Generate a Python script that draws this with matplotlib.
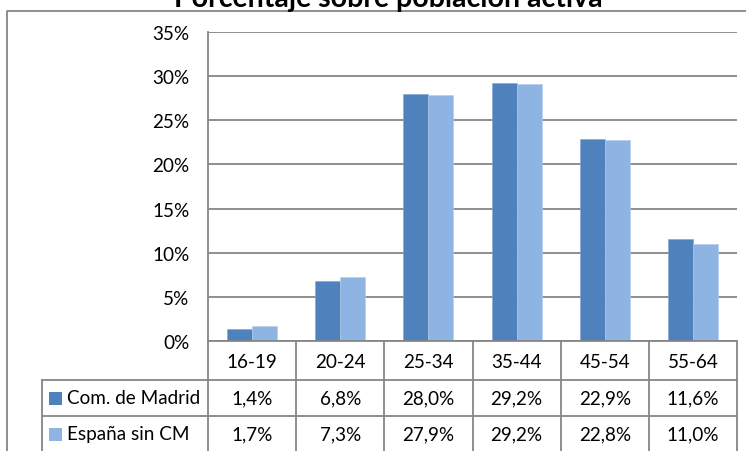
import matplotlib
matplotlib.use("Agg")
import matplotlib.pyplot as plt
from matplotlib.lines import Line2D
from matplotlib.patches import Rectangle
import matplotlib.transforms as mtransforms

plt.rcParams['font.family'] = ['Lato', 'DejaVu Sans']

# ---- data ----
categories = ["16-19", "20-24", "25-34", "35-44", "45-54", "55-64"]
series_names = ["Com. de Madrid", "España sin CM"]
madrid = [1.4, 6.8, 28.0, 29.24, 22.9, 11.6]
espana = [1.7, 7.3, 27.9, 29.16, 22.8, 11.0]
yticks = [0, 5, 10, 15, 20, 25, 30, 35]
title = "Porcentaje sobre población activa"

colors = ["#4F81BD", "#8EB4E3"]
grid_c = "#868686"
W, H = 746, 452

fig = plt.figure(figsize=(W / 100, H / 100), dpi=100)
fig.patch.set_facecolor("white")

def fx(p):
    return p / W

def fy(p):
    return 1 - p / H

left, right, top, bottom = 208, 737, 33, 342
ax = fig.add_axes([fx(left), fy(bottom), fx(right - left), (bottom - top) / H])
ax.set_xlim(-0.5, len(categories) - 0.5)
ax.set_ylim(0, 35)

bw = 0.283
xs = list(range(len(categories)))
ax.bar([x - bw for x in xs], madrid, width=bw, align="edge", color=colors[0],
       edgecolor="#7FA3D0", linewidth=0.4, zorder=3)
ax.bar(xs, espana, width=bw, align="edge", color=colors[1],
       edgecolor="#B3CDEC", linewidth=0.4, zorder=3)

fs = 13.6
ax.set_yticks(yticks)
ax.set_yticklabels([f"{t}%" for t in yticks], fontsize=fs)
ax.tick_params(axis="y", length=0, pad=13.5)
ax.set_xticks([])
ax.yaxis.grid(True, color=grid_c, linewidth=1.3, zorder=0)
ax.set_axisbelow(True)
for s in ["top", "right", "bottom"]:
    ax.spines[s].set_visible(False)
ax.spines["left"].set_color(grid_c)
ax.spines["left"].set_linewidth(1.3)

# ---- data table ----
bt = mtransforms.blended_transform_factory(ax.transData, fig.transFigure)
ft = fig.transFigure
lw = 1.3
fig.add_artist(Line2D([fx(left), fx(right)], [fy(342), fy(342)], color=grid_c, lw=lw, transform=ft))
for yp in (381, 417):
    fig.add_artist(Line2D([fx(42), fx(right)], [fy(yp), fy(yp)], color=grid_c, lw=lw, transform=ft))
fig.add_artist(Line2D([fx(42), fx(42)], [fy(381), fy(460)], color=grid_c, lw=lw, transform=ft))
for k in range(len(categories) + 1):
    xb = k - 0.5
    fig.add_artist(Line2D([xb, xb], [fy(342), fy(460)], color=grid_c, lw=lw, transform=bt))

for i, c in enumerate(categories):
    fig.text(i, fy(362), c, transform=bt, ha="center", va="center", fontsize=fs)

for r, (vals, yc) in enumerate([(madrid, 399), (espana, 435)]):
    for i, v in enumerate(vals):
        fig.text(i, fy(yc), f"{v:.1f}%".replace(".", ","), transform=bt,
                 ha="center", va="center", fontsize=fs)
    fig.add_artist(Rectangle((fx(49), fy(yc + 6.5)), fx(13), 13 / H,
                             facecolor=colors[r], edgecolor="none", transform=ft))
    fig.text(fx(67), fy(yc), series_names[r], ha="left", va="center", fontsize=fs)

# outer chart border
fig.add_artist(Line2D([fx(7), fx(7), fx(760)], [fy(470), fy(11.5), fy(11.5)],
                      color=grid_c, lw=1.3, transform=ft))

fig.text(fx(388), fy(7), title, ha="center", va="baseline", fontsize=20.5,
         fontweight="bold")

fig.savefig("out.png", dpi=100)
